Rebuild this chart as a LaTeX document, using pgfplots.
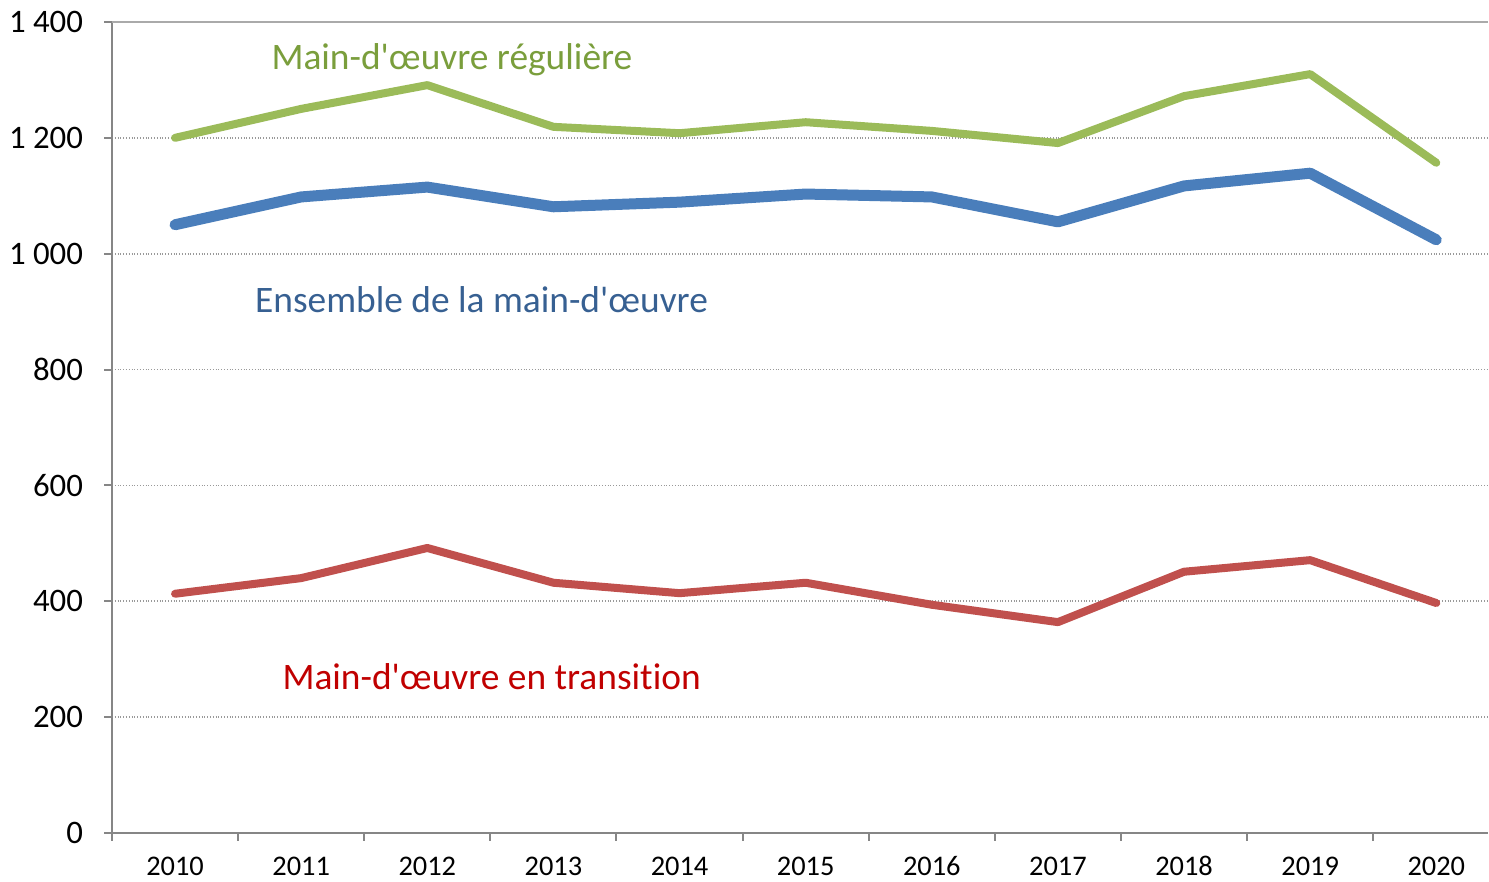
\documentclass[border=0pt]{standalone}
\usepackage{pgfplots}
\pgfplotsset{compat=1.18}
\usepackage{fontspec}
\setmainfont{Carlito}[Ligatures=NoCommon]
\definecolor{cgreen}{RGB}{155,187,89}
\definecolor{cblue}{RGB}{74,126,187}
\definecolor{cred}{RGB}{192,80,77}
\definecolor{tgreen}{RGB}{122,158,60}
\definecolor{tblue}{RGB}{55,96,146}
\definecolor{tred}{RGB}{192,0,0}
\definecolor{axgray}{RGB}{134,134,134}
\begin{document}
\begin{tikzpicture}
\begin{axis}[
  scale only axis,
  width=688pt, height=405.5pt,
  xmin=-0.5, xmax=10.41,
  ymin=0, ymax=1400,
  axis x line*=bottom, axis y line*=left,
  axis line style={axgray, line width=1pt},
  xtick={-0.5,0.5,1.5,2.5,3.5,4.5,5.5,6.5,7.5,8.5,9.5},
  xticklabels={},
  extra x ticks={0,...,10},
  extra x tick labels={2010,2011,2012,2013,2014,2015,2016,2017,2018,2019,2020},
  extra x tick style={major tick length=0pt},
  ytick={0,200,...,1400},
  yticklabels={0,200,400,600,800,1 000,1 200,1 400},
  tick align=outside,
  tick style={axgray, line width=1pt},
  major tick length=4pt,
  ymajorgrids,
  major grid style={densely dotted, gray!80, line width=0.8pt},
  ticklabel style={font=\fontsize{14.2}{16}\selectfont},
  yticklabel style={font=\fontsize{16.4}{18}\selectfont, xshift=-7pt},
  xticklabel style={yshift=-7.5pt, text height=10pt, text depth=0pt},
  clip=false,
]
\addplot[cgreen, line width=4pt, line cap=round, line join=round] coordinates {
(0,1200) (1,1250) (2,1291) (3,1219) (4,1208) (5,1227) (6,1212) (7,1191) (8,1272) (9,1310) (10,1157)};
\addplot[cblue, line width=5.5pt, line cap=round, line join=round] coordinates {
(0,1050) (1,1098) (2,1115) (3,1081) (4,1089) (5,1103) (6,1098) (7,1055) (8,1117) (9,1139) (10,1024)};
\addplot[cred, line width=4pt, line cap=round, line join=round] coordinates {
(0,413) (1,440) (2,492) (3,432) (4,414) (5,432) (6,394) (7,364) (8,451) (9,471) (10,397)};
\draw[axgray!70, line width=0.8pt] (axis cs:-0.5,1400) -- (axis cs:10.41,1400);
\node[text=tgreen, font=\fontsize{18.7}{22}\selectfont] at (axis cs:2.195,1335) {Main-d\textquotesingle œuvre régulière};
\node[text=tblue, font=\fontsize{18.7}{22}\selectfont] at (axis cs:2.43,920) {Ensemble de la main-d\textquotesingle œuvre};
\node[text=tred, font=\fontsize{18.7}{22}\selectfont] at (axis cs:2.51,270) {Main-d\textquotesingle œuvre en transition};
\end{axis}
\pgfresetboundingbox
\path[use as bounding box] (current axis.south west) ++(-56pt,-24.5pt) rectangle ++(744.5pt,441pt);
\end{tikzpicture}
\end{document}
